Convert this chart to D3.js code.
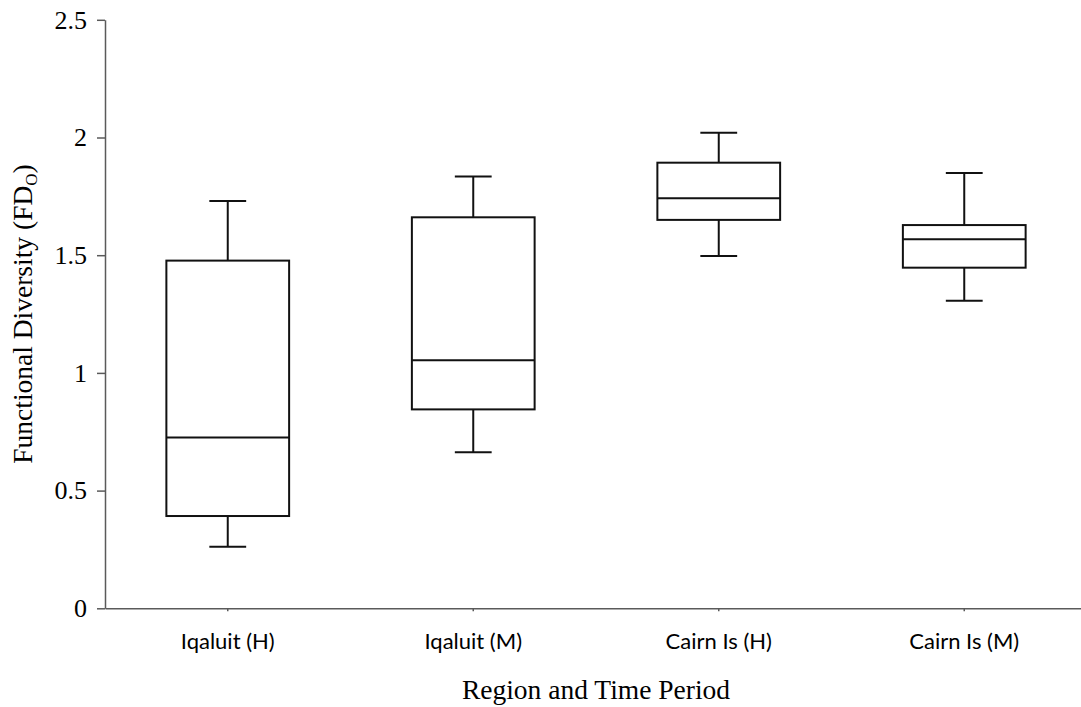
<!DOCTYPE html>
<html>
<head>
<meta charset="utf-8">
<script src="https://cdn.jsdelivr.net/npm/d3@7"></script>
<style>
  html, body { margin: 0; padding: 0; background: #fff; }
  svg { display: block; }
</style>
</head>
<body>
<svg id="chart" width="1081" height="707"></svg>
<script>
// Box plot summaries of functional diversity per region / time period
const categories = ["Iqaluit (H)", "Iqaluit (M)", "Cairn Is (H)", "Cairn Is (M)"];
const whiskerLow  = [0.262, 0.663, 1.497, 1.307];
const quartile1   = [0.392, 0.845, 1.650, 1.447];
const medians     = [0.726, 1.054, 1.742, 1.568];
const quartile3   = [1.477, 1.661, 1.893, 1.628];
const whiskerHigh = [1.730, 1.834, 2.020, 1.849];
const yTicks = [0, 0.5, 1, 1.5, 2, 2.5];

const svg = d3.select("#chart");

const x = d3.scaleBand().domain(categories).range([105, 1087]).padding(0);
const y = d3.scaleLinear().domain([0, 2.5]).range([608.3, 19.8]);

const serif = "'Liberation Serif', 'Times New Roman', serif";
const axisColor = "#5a5a5a";

// y axis
const yAxis = svg.append("g")
  .attr("transform", "translate(105,0)")
  .call(d3.axisLeft(y).tickValues(yTicks).tickFormat(d3.format("")).tickSize(8).tickSizeOuter(0).tickPadding(10));
yAxis.select(".domain").attr("stroke", axisColor).attr("stroke-width", 1.5);
yAxis.selectAll(".tick line").attr("stroke", axisColor).attr("stroke-width", 1.5);
yAxis.selectAll(".tick text")
  .attr("font-family", serif).attr("font-size", 26).attr("fill", "#000");

// x axis
const xAxis = svg.append("g")
  .attr("transform", "translate(0,608.3)")
  .call(d3.axisBottom(x).tickSize(3).tickSizeOuter(0).tickPadding(22));
xAxis.select(".domain").attr("stroke", axisColor).attr("stroke-width", 1.5);
xAxis.selectAll(".tick line").attr("stroke", axisColor).attr("stroke-width", 1.5);
xAxis.selectAll(".tick text")
  .attr("font-family", "Lato, 'Open Sans', sans-serif").attr("font-size", 22).attr("fill", "#000");

// boxes
const boxW = x.bandwidth() / 2;
const capW = x.bandwidth() * 0.15;
const stats = categories.map((c, i) => ({
  c, lo: whiskerLow[i], q1: quartile1[i], med: medians[i], q3: quartile3[i], hi: whiskerHigh[i]
}));

const g = svg.append("g").attr("stroke", "#111").attr("stroke-width", 2).attr("fill", "none");
const box = g.selectAll("g.box").data(stats).join("g").attr("class", "box")
  .attr("transform", d => `translate(${x(d.c) + x.bandwidth() / 2},0)`);

// whisker stems
box.append("line").attr("x1", 0).attr("x2", 0).attr("y1", d => y(d.q3)).attr("y2", d => y(d.hi));
box.append("line").attr("x1", 0).attr("x2", 0).attr("y1", d => y(d.q1)).attr("y2", d => y(d.lo));
// caps
box.append("line").attr("x1", -capW / 2).attr("x2", capW / 2).attr("y1", d => y(d.hi)).attr("y2", d => y(d.hi));
box.append("line").attr("x1", -capW / 2).attr("x2", capW / 2).attr("y1", d => y(d.lo)).attr("y2", d => y(d.lo));
// interquartile box
box.append("rect")
  .attr("x", -boxW / 2).attr("width", boxW)
  .attr("y", d => y(d.q3)).attr("height", d => y(d.q1) - y(d.q3))
  .attr("fill", "#fff");
// median
box.append("line").attr("x1", -boxW / 2).attr("x2", boxW / 2).attr("y1", d => y(d.med)).attr("y2", d => y(d.med));

// axis titles
svg.append("text")
  .attr("x", 596).attr("y", 699)
  .attr("text-anchor", "middle")
  .attr("font-family", serif).attr("font-size", 27.5).attr("fill", "#000")
  .text("Region and Time Period");

const yt = svg.append("text")
  .attr("transform", "translate(32,314) rotate(-90)")
  .attr("text-anchor", "middle")
  .attr("font-family", serif).attr("font-size", 27.5).attr("fill", "#000");
yt.append("tspan").text("Functional Diversity (FD");
yt.append("tspan").attr("font-size", 17).attr("dy", 5).text("O");
yt.append("tspan").attr("dy", -5).text(")");
</script>
</body>
</html>
